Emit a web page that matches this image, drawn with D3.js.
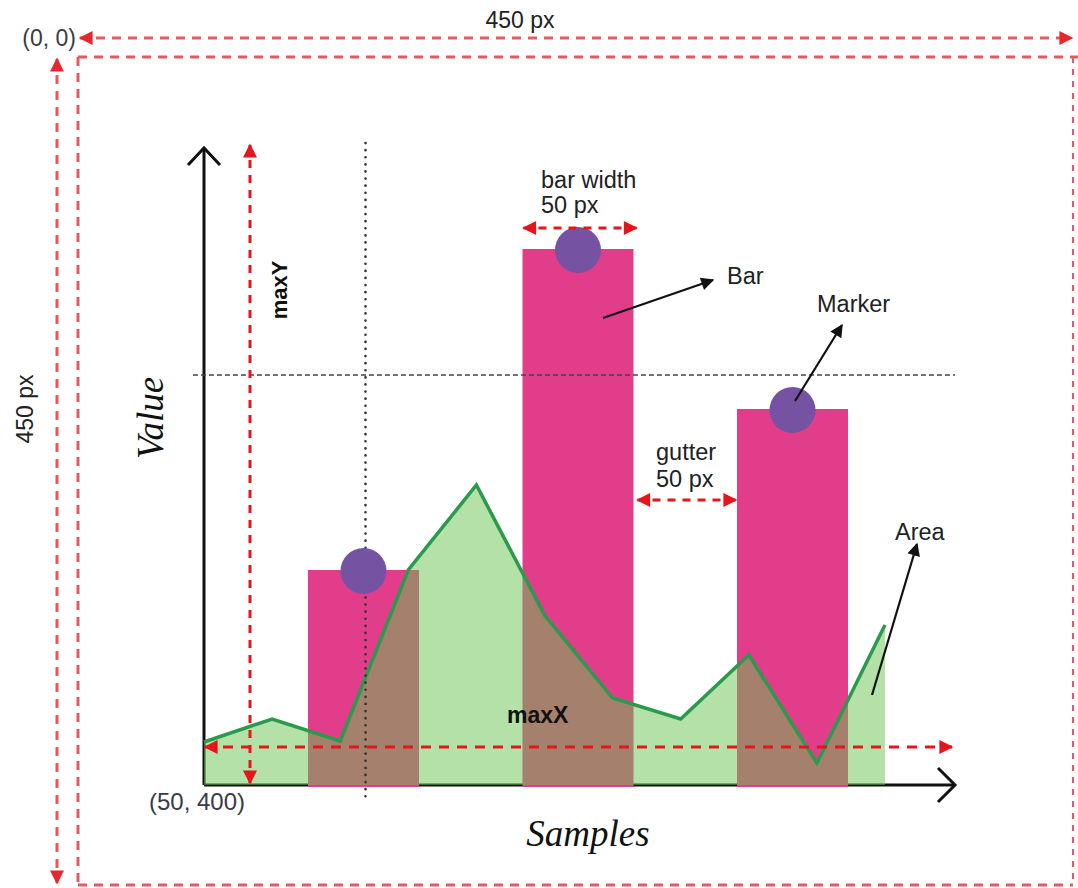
<!DOCTYPE html>
<html>
<head>
<meta charset="utf-8">
<script src="https://cdn.jsdelivr.net/npm/d3@7/dist/d3.min.js"></script>
<style>
  html, body { margin: 0; padding: 0; background: #fff; }
  svg { display: block; }
  .sans { font-family: "Liberation Sans", Arial, Helvetica, sans-serif; fill: #222; }
  .serif { font-family: "Liberation Serif", "Times New Roman", serif; font-style: italic; fill: #111; }
</style>
</head>
<body>
<svg id="chart" width="1078" height="888"></svg>
<script>
// ---------- data ----------
const barCategories = ["A", "B", "C"];
const barValues = [215, 536, 376];
const sampleIndex = [0, 1, 2, 3, 4, 5, 6, 7, 8, 9, 10];
const areaValues = [43, 66, 44, 215, 300, 170, 87, 66, 130, 22, 160];
const thresholdValue = 410;   // dashed horizontal guide
const maxYValue = 642;        // top of maxY arrow
const maxXValue = 38;         // level of maxX arrow
const labels = {
  size: "450 px", origin: "(0, 0)", corner: "(50, 400)",
  yTitle: "Value", xTitle: "Samples",
  barWidth: ["bar width", "50 px"], gutter: ["gutter", "50 px"],
  bar: "Bar", marker: "Marker", area: "Area", maxX: "maxX", maxY: "maxY"
};

// ---------- scales ----------
const svg = d3.select("#chart");
const y = d3.scaleLinear().domain([0, 640]).range([785, 145]);
const xs = d3.scaleLinear().domain([0, 10]).range([204, 885]);
const xb = d3.scaleBand().domain(barCategories).range([308, 848]).paddingInner(0.4825).paddingOuter(0);
const frame = { x: d3.scaleLinear().domain([0, 450]).range([78, 1073]),
                y: d3.scaleLinear().domain([0, 450]).range([57, 885]) };

// ---------- markers ----------
const defs = svg.append("defs");
function tri(id, color, w, h) {
  defs.append("marker").attr("id", id).attr("viewBox", "0 0 10 10")
    .attr("refX", 9).attr("refY", 5).attr("markerWidth", w).attr("markerHeight", h)
    .attr("markerUnits", "userSpaceOnUse").attr("orient", "auto-start-reverse")
    .append("path").attr("d", "M0,0 L10,5 L0,10 z").attr("fill", color);
}
tri("redArrow", "#e8141c", 18, 14);
tri("redArrowOuter", "#e8262e", 18, 14);
tri("blackArrow", "#111", 18, 13);

const redOuter = "#e45a5e";
const red = "#e8141c";

function dashed(x1, y1, x2, y2, color, opts = {}) {
  const l = svg.append("line").attr("x1", x1).attr("y1", y1).attr("x2", x2).attr("y2", y2)
    .attr("stroke", color).attr("stroke-width", opts.w || 3)
    .attr("stroke-dasharray", opts.dash || "9,7");
  if (opts.start) l.attr("marker-start", `url(#${opts.start})`);
  if (opts.end) l.attr("marker-end", `url(#${opts.end})`);
  return l;
}

// ---------- outer frame ----------
dashed(frame.x(0), frame.y(0), 1078, frame.y(0), redOuter, { w: 3 });
dashed(frame.x(0), frame.y(0), frame.x(0), frame.y(450), redOuter, { w: 3 });
dashed(frame.x(0), frame.y(450), frame.x(450), frame.y(450), redOuter, { w: 3 });
dashed(frame.x(450), frame.y(0), frame.x(450), frame.y(450), redOuter, { w: 2, dash: "6,6" });
dashed(frame.x(0) + 2, 38, frame.x(450) - 1, 38, redOuter, { w: 3, start: "redArrowOuter", end: "redArrowOuter" });
dashed(57, frame.y(0) + 2, 57, frame.y(450) - 2, redOuter, { w: 3, start: "redArrowOuter", end: "redArrowOuter" });

svg.append("text").attr("class", "sans").attr("x", 520).attr("y", 28).attr("text-anchor", "middle")
  .attr("font-size", 23).text(labels.size);
svg.append("text").attr("class", "sans").attr("x", 76).attr("y", 46).attr("text-anchor", "end")
  .attr("font-size", 23).style("fill", "#3a3a48").text(labels.origin);
svg.append("text").attr("class", "sans").attr("transform", "translate(33,409) rotate(-90)")
  .attr("text-anchor", "middle").attr("font-size", 23).text(labels.size);

// ---------- axes ----------
svg.append("line").attr("x1", xs(0)).attr("y1", y(0)).attr("x2", xs(0)).attr("y2", y(637))
  .attr("stroke", "#111").attr("stroke-width", 3);
svg.append("line").attr("x1", xs(0)).attr("y1", y(0)).attr("x2", 955).attr("y2", y(0))
  .attr("stroke", "#111").attr("stroke-width", 3);
svg.append("path").attr("d", `M${xs(0) - 16},${y(637) + 17} L${xs(0)},${y(637)} L${xs(0) + 16},${y(637) + 17}`)
  .attr("fill", "none").attr("stroke", "#111").attr("stroke-width", 3);
svg.append("path").attr("d", `M938,${y(0) - 17} L955,${y(0)} L938,${y(0) + 17}`)
  .attr("fill", "none").attr("stroke", "#111").attr("stroke-width", 3);

// ---------- bars ----------
svg.selectAll("rect.bar").data(barValues).join("rect").attr("class", "bar")
  .attr("x", (d, i) => xb(barCategories[i]))
  .attr("width", xb.bandwidth())
  .attr("y", d => y(d))
  .attr("height", d => y(0) - y(d) + 2)
  .attr("fill", "#e23d8b");

// ---------- area ----------
const pts = sampleIndex.map((s, i) => [s, areaValues[i]]);
svg.append("path").datum(pts)
  .attr("d", d3.area().x(d => xs(d[0])).y0(y(0)).y1(d => y(d[1])))
  .attr("fill", "rgb(103,195,79)").attr("fill-opacity", 0.5);
svg.append("path").datum(pts)
  .attr("d", d3.line().x(d => xs(d[0])).y(d => y(d[1])))
  .attr("fill", "none").attr("stroke", "#2a9a4c").attr("stroke-width", 3.5).attr("stroke-linejoin", "miter");

// ---------- guides ----------
const c1 = xb(barCategories[0]) + xb.bandwidth() / 2;
svg.append("line").attr("x1", c1 + 2).attr("y1", 143).attr("x2", c1 + 2).attr("y2", 802)
  .attr("stroke", "#333").attr("stroke-width", 2.6).attr("stroke-linecap", "round")
  .attr("stroke-dasharray", "0.1,7");
svg.append("line").attr("x1", 193).attr("y1", y(thresholdValue)).attr("x2", 955).attr("y2", y(thresholdValue))
  .attr("stroke", "#444").attr("stroke-width", 1.6).attr("stroke-dasharray", "5,3");

// ---------- markers (circles) ----------
svg.selectAll("circle.mk").data(barValues).join("circle").attr("class", "mk")
  .attr("cx", (d, i) => xb(barCategories[i]) + xb.bandwidth() / 2)
  .attr("cy", d => y(d) + 1)
  .attr("r", 23)
  .attr("fill", "#7652a3");

// ---------- red measurement arrows ----------
dashed(250, y(0) - 2, 250, y(maxYValue) + 2, red, { w: 3, dash: "8,7", start: "redArrow", end: "redArrow" });
dashed(xs(0) + 1, y(maxXValue), 952, y(maxXValue), red, { w: 3, dash: "10,8", start: "redArrow", end: "redArrow" });
const b2 = xb(barCategories[1]), b3 = xb(barCategories[2]);
dashed(b2 + 1, 228, b2 + xb.bandwidth() + 3, 228, red, { w: 3, dash: "8,7", start: "redArrow", end: "redArrow" });
dashed(b2 + xb.bandwidth() + 4, 500, b3 - 1, 500, red, { w: 3, dash: "8,7", start: "redArrow", end: "redArrow" });

// ---------- black annotation arrows ----------
function blackArrow(x1, y1, x2, y2) {
  svg.append("line").attr("x1", x1).attr("y1", y1).attr("x2", x2).attr("y2", y2)
    .attr("stroke", "#111").attr("stroke-width", 2.2).attr("marker-end", "url(#blackArrow)");
}
blackArrow(603, 318, 713, 280);
blackArrow(795, 401, 842, 325);
blackArrow(872, 695, 917, 544);

// ---------- text ----------
function t(x, yy, s, opts = {}) {
  return svg.append("text").attr("class", "sans").attr("x", x).attr("y", yy)
    .attr("font-size", opts.size || 23.5).attr("font-weight", opts.bold ? "bold" : null)
    .attr("text-anchor", opts.anchor || "start").style("fill", opts.color || "#222").text(s);
}
t(541, 188, labels.barWidth[0]);
t(541, 213, labels.barWidth[1]);
t(656, 460, labels.gutter[0]);
t(656, 487, labels.gutter[1]);
t(727, 284, labels.bar);
t(817, 312, labels.marker);
t(895, 540, labels.area);
t(507, 723, labels.maxX, { bold: true, size: 23, color: "#111" });
svg.append("text").attr("class", "sans").attr("transform", "translate(287,290) rotate(-90)")
  .attr("text-anchor", "middle").attr("font-size", 22).attr("font-weight", "bold").style("fill", "#111")
  .text(labels.maxY);
t(149, 810, labels.corner, { size: 24, color: "#3a3a48" });

svg.append("text").attr("class", "serif").attr("transform", "translate(163,418) rotate(-90)")
  .attr("text-anchor", "middle").attr("font-size", 37).text(labels.yTitle);
svg.append("text").attr("class", "serif").attr("x", 588).attr("y", 846)
  .attr("text-anchor", "middle").attr("font-size", 37).text(labels.xTitle);
</script>
</body>
</html>
